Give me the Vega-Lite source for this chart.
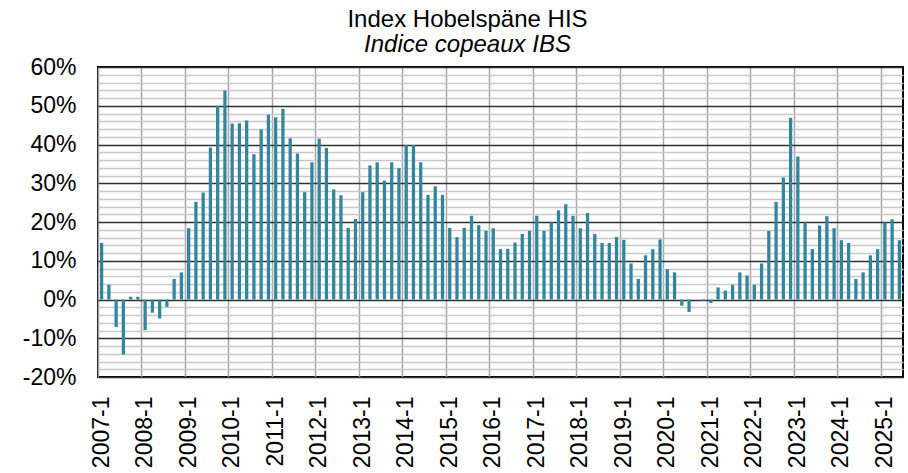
{
 "$schema": "https://vega.github.io/schema/vega-lite/v6.json",
 "width": 805, "height": 310,
 "autosize": "none",
 "padding": {"left": 98, "top": 67, "right": 5, "bottom": 96},
 "background": "white",
 "config": {"font": "Liberation Sans", "view": {"stroke": "#000", "strokeWidth": 2}},
 "title": {"text": "Index Hobelspäne HIS", "subtitle": "Indice copeaux IBS", "font": "Liberation Sans", "subtitleFont": "Liberation Sans", "fontSize": 24, "fontWeight": "normal", "subtitleFontSize": 24, "subtitleFontStyle": "italic", "color": "#000", "subtitleColor": "#000", "anchor": "middle", "dx": -33, "offset": -1, "subtitlePadding": 1},
 "data": {"values": [
  {"period":"2007-1","value":14.6},{"period":"2007-2","value":3.8},{"period":"2007-3","value":-7.1},{"period":"2007-4","value":-14.2},{"period":"2007-5","value":0.7},{"period":"2007-6","value":0.7},
  {"period":"2008-1","value":-7.9},{"period":"2008-2","value":-3.4},{"period":"2008-3","value":-4.9},{"period":"2008-4","value":-1.9},{"period":"2008-5","value":5.3},{"period":"2008-6","value":7.0},
  {"period":"2009-1","value":18.4},{"period":"2009-2","value":25.2},{"period":"2009-3","value":27.6},{"period":"2009-4","value":39.2},{"period":"2009-5","value":50.0},{"period":"2009-6","value":53.9},
  {"period":"2010-1","value":45.4},{"period":"2010-2","value":45.5},{"period":"2010-3","value":46.2},{"period":"2010-4","value":37.5},{"period":"2010-5","value":43.9},{"period":"2010-6","value":47.7},
  {"period":"2011-1","value":47.0},{"period":"2011-2","value":49.2},{"period":"2011-3","value":41.6},{"period":"2011-4","value":37.7},{"period":"2011-5","value":27.7},{"period":"2011-6","value":35.4},
  {"period":"2012-1","value":41.5},{"period":"2012-2","value":39.1},{"period":"2012-3","value":28.4},{"period":"2012-4","value":26.9},{"period":"2012-5","value":18.5},{"period":"2012-6","value":20.8},
  {"period":"2013-1","value":27.7},{"period":"2013-2","value":34.6},{"period":"2013-3","value":35.4},{"period":"2013-4","value":30.7},{"period":"2013-5","value":35.4},{"period":"2013-6","value":33.9},
  {"period":"2014-1","value":39.9},{"period":"2014-2","value":39.9},{"period":"2014-3","value":35.4},{"period":"2014-4","value":27.0},{"period":"2014-5","value":29.2},{"period":"2014-6","value":27.0},
  {"period":"2015-1","value":18.5},{"period":"2015-2","value":16.1},{"period":"2015-3","value":18.5},{"period":"2015-4","value":21.6},{"period":"2015-5","value":19.2},{"period":"2015-6","value":17.7},
  {"period":"2016-1","value":18.4},{"period":"2016-2","value":13.0},{"period":"2016-3","value":13.1},{"period":"2016-4","value":14.7},{"period":"2016-5","value":16.9},{"period":"2016-6","value":17.7},
  {"period":"2017-1","value":21.6},{"period":"2017-2","value":17.7},{"period":"2017-3","value":19.9},{"period":"2017-4","value":23.0},{"period":"2017-5","value":24.6},{"period":"2017-6","value":21.6},
  {"period":"2018-1","value":18.4},{"period":"2018-2","value":22.3},{"period":"2018-3","value":16.9},{"period":"2018-4","value":14.6},{"period":"2018-5","value":14.6},{"period":"2018-6","value":16.1},
  {"period":"2019-1","value":15.4},{"period":"2019-2","value":9.3},{"period":"2019-3","value":5.3},{"period":"2019-4","value":11.4},{"period":"2019-5","value":13.0},{"period":"2019-6","value":15.5},
  {"period":"2020-1","value":7.8},{"period":"2020-2","value":7.0},{"period":"2020-3","value":-1.6},{"period":"2020-4","value":-3.2},{"period":"2020-5","value":0},{"period":"2020-6","value":-0.3},
  {"period":"2021-1","value":-0.9},{"period":"2021-2","value":3.1},{"period":"2021-3","value":2.3},{"period":"2021-4","value":3.8},{"period":"2021-5","value":7.0},{"period":"2021-6","value":6.2},
  {"period":"2022-1","value":3.8},{"period":"2022-2","value":9.3},{"period":"2022-3","value":17.7},{"period":"2022-4","value":25.2},{"period":"2022-5","value":31.5},{"period":"2022-6","value":46.9},
  {"period":"2023-1","value":36.9},{"period":"2023-2","value":19.9},{"period":"2023-3","value":13.0},{"period":"2023-4","value":19.1},{"period":"2023-5","value":21.5},{"period":"2023-6","value":18.4},
  {"period":"2024-1","value":15.3},{"period":"2024-2","value":14.6},{"period":"2024-3","value":5.3},{"period":"2024-4","value":7.0},{"period":"2024-5","value":11.4},{"period":"2024-6","value":13.0},
  {"period":"2025-1","value":19.9},{"period":"2025-2","value":20.7},{"period":"2025-3","value":15.3}
 ]},
 "mark": {"type": "bar", "color": "#31859C", "width": {"band": 0.45}},
 "encoding": {
  "x": {"field": "period", "type": "ordinal", "sort": null,
   "scale": {"paddingInner": 0, "paddingOuter": 0},
   "axis": {"values": ["2007-1","2008-1","2009-1","2010-1","2011-1","2012-1","2013-1","2014-1","2015-1","2016-1","2017-1","2018-1","2019-1","2020-1","2021-1","2022-1","2023-1","2024-1","2025-1"],
    "bandPosition": 0, "labelAngle": -90, "labelAlign": "right", "labelBaseline": "middle", "labelFontSize": 23, "labelColor": "#000", "labelFont": "Liberation Sans",
    "grid": true, "gridColor": "#a6a6a6", "gridWidth": 1.5, "ticks": false, "domain": false, "title": null, "labelPadding": 19}},
  "y": {"field": "value", "type": "quantitative",
   "scale": {"domain": [-20, 60], "nice": false, "zero": false},
   "axis": {"values": [-20,-18,-16,-14,-12,-10,-8,-6,-4,-2,0,2,4,6,8,10,12,14,16,18,20,22,24,26,28,30,32,34,36,38,40,42,44,46,48,50,52,54,56,58,60],
    "grid": true,
    "gridColor": {"condition": {"test": "datum.value % 10 === 0", "value": "#303030"}, "value": "#c8c8c8"},
    "gridWidth": {"condition": {"test": "datum.value % 10 === 0", "value": 1.3}, "value": 1.5},
    "labelExpr": "datum.value % 10 === 0 ? datum.value + '%' : ''",
    "labelFontSize": 23, "labelColor": "#000", "labelFont": "Liberation Sans", "ticks": false, "domain": false, "title": null, "labelPadding": 22}}
 }
}
